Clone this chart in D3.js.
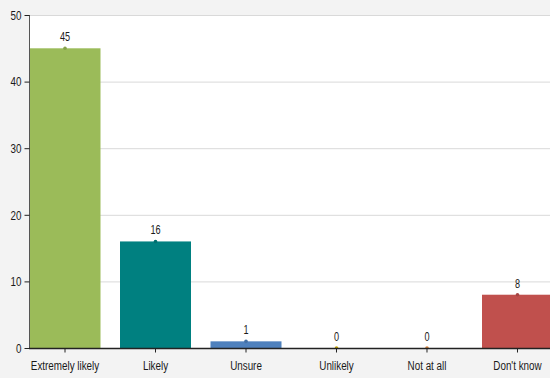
<!DOCTYPE html>
<html><head><meta charset="utf-8">
<script src="https://cdn.jsdelivr.net/npm/d3@7"></script>
<style>
html,body{margin:0;padding:0;background:#f3f3f3;}
text{font-family:"Liberation Sans Narrow","Arial Narrow","Liberation Sans",sans-serif;fill:#1a1a1a;}
</style></head>
<body><svg id="c" width="550" height="378"></svg>
<script>
const categories = ["Extremely likely","Likely","Unsure","Unlikely","Not at all","Don't know"];
const values = [45,16,1,0,0,8];
const colors = ["#9bbb59","#008080","#4f81bd","#e6c000","#f79646","#c0504d"];
const yTicks = [0,10,20,30,40,50];

(function(){
const svg = d3.select("#c");
const W = 550, H = 378;
const mLeft = 29, mTop = 15, mBottom = 348;
const SX = 0.73;

const x = d3.scaleBand().domain(categories).range([19.75, 562.75]).paddingInner(0.2155).paddingOuter(0.1078);
const y = d3.scaleLinear().domain([0,50]).range([mBottom, mTop]);

svg.append("rect").attr("x",mLeft).attr("y",mTop).attr("width",W-mLeft).attr("height",mBottom-mTop).attr("fill","#fff");

svg.append("g").selectAll("line").data(yTicks.filter(d=>d>0)).join("line")
  .attr("x1",mLeft).attr("x2",W).attr("y1",d=>y(d)+0.5).attr("y2",d=>y(d)+0.5)
  .attr("stroke","#d9d9d9").attr("stroke-width",1);

svg.append("clipPath").attr("id","pc").append("rect")
  .attr("x",mLeft).attr("y",0).attr("width",W-mLeft).attr("height",mBottom);
const g = svg.append("g").attr("clip-path","url(#pc)");

g.selectAll("rect.bar").data(categories).join("rect").attr("class","bar")
  .attr("x",d=>x(d)).attr("width",x.bandwidth())
  .attr("y",(d,i)=>y(values[i])).attr("height",(d,i)=>y(0)-y(values[i]))
  .attr("fill",(d,i)=>colors[i]);

g.selectAll("circle.mk").data(categories).join("circle").attr("class","mk")
  .attr("cx",d=>x(d)+x.bandwidth()/2).attr("cy",(d,i)=>y(values[i]))
  .attr("r",1.8).attr("fill",(d,i)=>d3.color(colors[i]).darker(0.4));

svg.append("g").selectAll("g").data(categories).join("g")
  .attr("transform",(d,i)=>`translate(${x(d)+x.bandwidth()/2},${y(values[i])-7}) scale(${SX},1)`)
  .append("text").attr("text-anchor","middle").attr("font-size",12.5)
  .text((d,i)=>values[i]);

const ya = svg.append("g").attr("transform",`translate(${mLeft+0.5},0)`)
  .call(d3.axisLeft(y).tickValues(yTicks).tickSize(5).tickPadding(3));
ya.select(".domain").attr("stroke","#555").attr("d",`M0,${mTop}V${mBottom}`);
ya.selectAll(".tick line").attr("stroke","#222");
ya.selectAll(".tick text").attr("font-size",13.5).attr("font-family",null)
  .attr("x",-8/SX).attr("transform",`scale(${SX},1)`);

const xa = svg.append("g").attr("transform",`translate(0,${mBottom+0.5})`)
  .call(d3.axisBottom(x).tickSize(4).tickPadding(8));
xa.select(".domain").attr("stroke","#222").attr("stroke-width",1.5).attr("d",`M${mLeft},0H${W}`);
xa.selectAll(".tick line").attr("stroke","#222");
xa.selectAll(".tick text").attr("font-size",13.5).attr("font-family",null)
  .attr("transform",`scale(${SX},1)`);
})();
</script></body></html>
